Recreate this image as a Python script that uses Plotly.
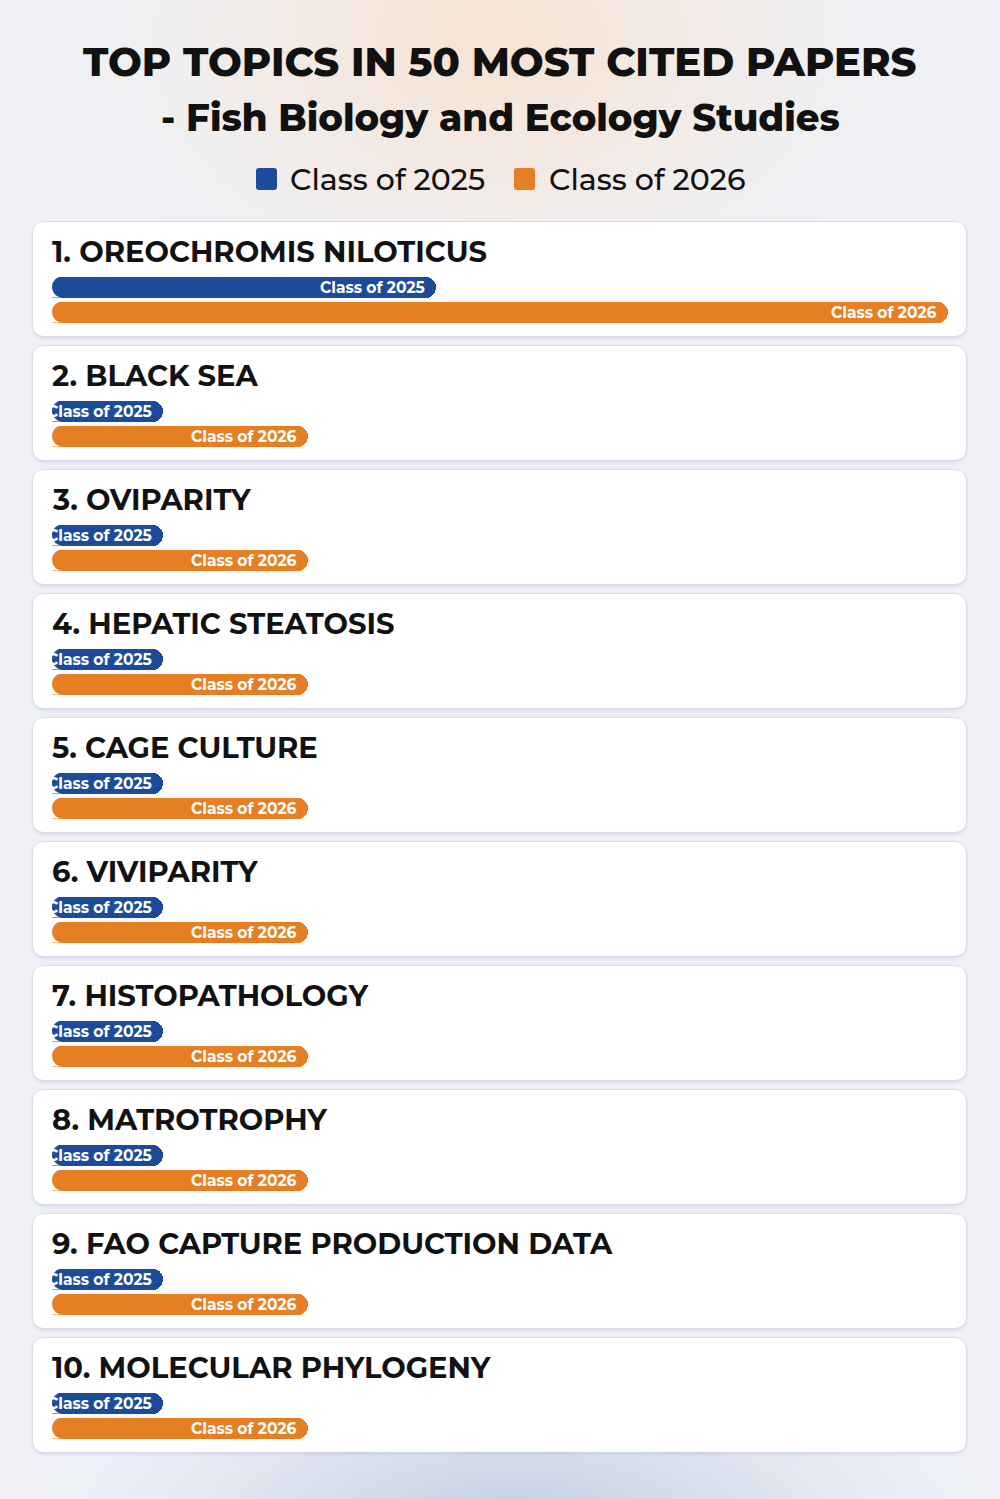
import plotly.graph_objects as go

# ---- data ----
topics = ["1. OREOCHROMIS NILOTICUS", "2. BLACK SEA", "3. OVIPARITY", "4. HEPATIC STEATOSIS",
          "5. CAGE CULTURE", "6. VIVIPARITY", "7. HISTOPATHOLOGY", "8. MATROTROPHY",
          "9. FAO CAPTURE PRODUCTION DATA", "10. MOLECULAR PHYLOGENY"]
series_names = ["Class of 2025", "Class of 2026"]
class_2025 = [3.0, 0.87, 0.87, 0.87, 0.87, 0.87, 0.87, 0.87, 0.87, 0.87]
class_2026 = [7.0, 2.0, 2.0, 2.0, 2.0, 2.0, 2.0, 2.0, 2.0, 2.0]
title_line1 = "TOP TOPICS IN 50 MOST CITED PAPERS"
title_line2 = "- Fish Biology and Ecology Studies"

# ---- style / layout ----
W, H = 1000, 1499
BLUE = "#1c4b9c"
ORANGE = "#e67f23"
FONT = "Montserrat, 'DejaVu Sans', sans-serif"
BG = (239, 241, 247)
GLOW_TOP = (246, 228, 212)
GLOW_BOTTOM = (196, 208, 226)
CARD_TOP0 = 222
CARD_STEP = 124
CARD_H = 114
CARD_X0, CARD_X1 = 33, 966
BAR_X0, BAR_X1 = 52, 948
BAR_H = 21
XMAX = max(class_2026)

def px(x):
    return x / W

def mix(a, b, t):
    return "rgb({},{},{})".format(*[round(a[i] + (b[i] - a[i]) * t) for i in range(3)])

def rounded_path(x0, y0, x1, y1, r):
    rx = r / W
    X0, X1 = px(x0), px(x1)
    return (f"M {X0+rx},{y0} L {X1-rx},{y0} Q {X1},{y0} {X1},{y0+r} "
            f"L {X1},{y1-r} Q {X1},{y1} {X1-rx},{y1} L {X0+rx},{y1} "
            f"Q {X0},{y1} {X0},{y1-r} L {X0},{y0+r} Q {X0},{y0} {X0+rx},{y0} Z")

def left_cap_mask(x0, yc, r):
    X0, XR = px(x0), px(x0 + r)
    top, bot = yc - r, yc + r
    return (f"M {X0},{top} L {XR},{top} C {px(x0 + r*0.45)},{top} {X0},{yc - r*0.55} {X0},{yc} "
            f"C {X0},{yc + r*0.55} {px(x0 + r*0.45)},{bot} {XR},{bot} L {X0},{bot} Z")

fig = go.Figure()

shapes = []
# soft background glows: solid rings with interpolated colours
N = 40
for k in range(N):
    f = 1 - k / N
    t = (k / N) ** 1.3
    rx, ry = 440 * f + 20, 300 * f + 20
    shapes.append(dict(type="circle", xref="paper", yref="y", layer="below",
                       x0=px(490 - rx), x1=px(490 + rx), y0=40 - ry, y1=40 + ry,
                       fillcolor=mix(BG, GLOW_TOP, t), line=dict(width=0)))
for k in range(N):
    f = 1 - k / N
    t = (k / N) ** 1.2
    rx, ry = 460 * f + 20, 150 * f + 10
    shapes.append(dict(type="circle", xref="paper", yref="y", layer="below",
                       x0=px(515 - rx), x1=px(515 + rx), y0=H + 15 - ry, y1=H + 15 + ry,
                       fillcolor=mix(BG, GLOW_BOTTOM, t), line=dict(width=0)))

centers_2025, centers_2026 = [], []
for i, t in enumerate(topics):
    top = CARD_TOP0 + CARD_STEP * i
    bot = top + CARD_H
    for d, op in [(5, 0.10), (3, 0.15), (1.5, 0.25)]:
        shapes.append(dict(type="path", xref="paper", yref="y", layer="below",
                           path=rounded_path(CARD_X0 - d * 0.5, top - d * 0.3, CARD_X1 + d * 0.5, bot + d, 12 + d),
                           fillcolor="#b9c2d6", opacity=op, line=dict(width=0)))
    shapes.append(dict(type="path", xref="paper", yref="y", layer="below",
                       path=rounded_path(CARD_X0, top, CARD_X1, bot, 12),
                       fillcolor="white", line=dict(width=0)))
    centers_2025.append(top + 65)
    centers_2026.append(top + 90)

fig.add_trace(go.Bar(x=class_2025, y=centers_2025, orientation="h", width=BAR_H,
                     marker=dict(color=BLUE, cornerradius=BAR_H // 2, line=dict(width=0)),
                     name=series_names[0], hoverinfo="skip", showlegend=False))
fig.add_trace(go.Bar(x=class_2026, y=centers_2026, orientation="h", width=BAR_H,
                     marker=dict(color=ORANGE, cornerradius=BAR_H // 2, line=dict(width=0)),
                     name=series_names[1], hoverinfo="skip", showlegend=False))

# rounded left ends of bars
for yc in centers_2025 + centers_2026:
    shapes.append(dict(type="path", xref="paper", yref="y", layer="above",
                       path=left_cap_mask(BAR_X0, yc, BAR_H / 2), fillcolor="white", line=dict(width=0)))

annotations = []
annotations.append(dict(text=title_line1, x=0.5, xref="paper", y=61, yref="y",
                        showarrow=False, font=dict(family=FONT, size=40, color="#111111", weight=800),
                        xanchor="center", yanchor="middle"))
annotations.append(dict(text=title_line2, x=0.5, xref="paper", y=117, yref="y",
                        showarrow=False, font=dict(family=FONT, size=37, color="#111111", weight=800),
                        xanchor="center", yanchor="middle"))
for (sx, tx), name, col in zip([(256, 288), (514, 547)], series_names, [BLUE, ORANGE]):
    shapes.append(dict(type="path", xref="paper", yref="y", layer="above",
                       path=rounded_path(sx, 168, sx + 21, 190, 3), fillcolor=col, line=dict(width=0)))
    annotations.append(dict(text=name, x=px(tx), xref="paper", y=179, yref="y", showarrow=False,
                            font=dict(family=FONT, size=30, color="#111111", weight=500),
                            xanchor="left", yanchor="middle"))

for i, t in enumerate(topics):
    top = CARD_TOP0 + CARD_STEP * i
    annotations.append(dict(text=t, x=px(BAR_X0 - 2), xref="paper", y=top + 29, yref="y",
                            showarrow=False, font=dict(family=FONT, size=29, color="#121212", weight=700),
                            xanchor="left", yanchor="middle"))
    for val, yc, name in [(class_2025[i], centers_2025[i], series_names[0]),
                          (class_2026[i], centers_2026[i], series_names[1])]:
        annotations.append(dict(text=name, x=val, xref="x", y=yc, yref="y",
                                showarrow=False, xshift=-9,
                                font=dict(family=FONT, size=15.5, color="white", weight=700),
                                xanchor="right", yanchor="middle"))

fig.update_layout(
    width=W, height=H, margin=dict(l=0, r=0, t=0, b=0),
    paper_bgcolor=mix(BG, BG, 0), plot_bgcolor="rgba(0,0,0,0)",
    xaxis=dict(domain=[BAR_X0 / W, BAR_X1 / W], range=[0, XMAX], visible=False, fixedrange=True),
    yaxis=dict(domain=[0, 1], range=[H, 0], visible=False, fixedrange=True),
    shapes=shapes, annotations=annotations, bargap=0, showlegend=False,
)

fig.write_html("out.html", config={"displayModeBar": False})
